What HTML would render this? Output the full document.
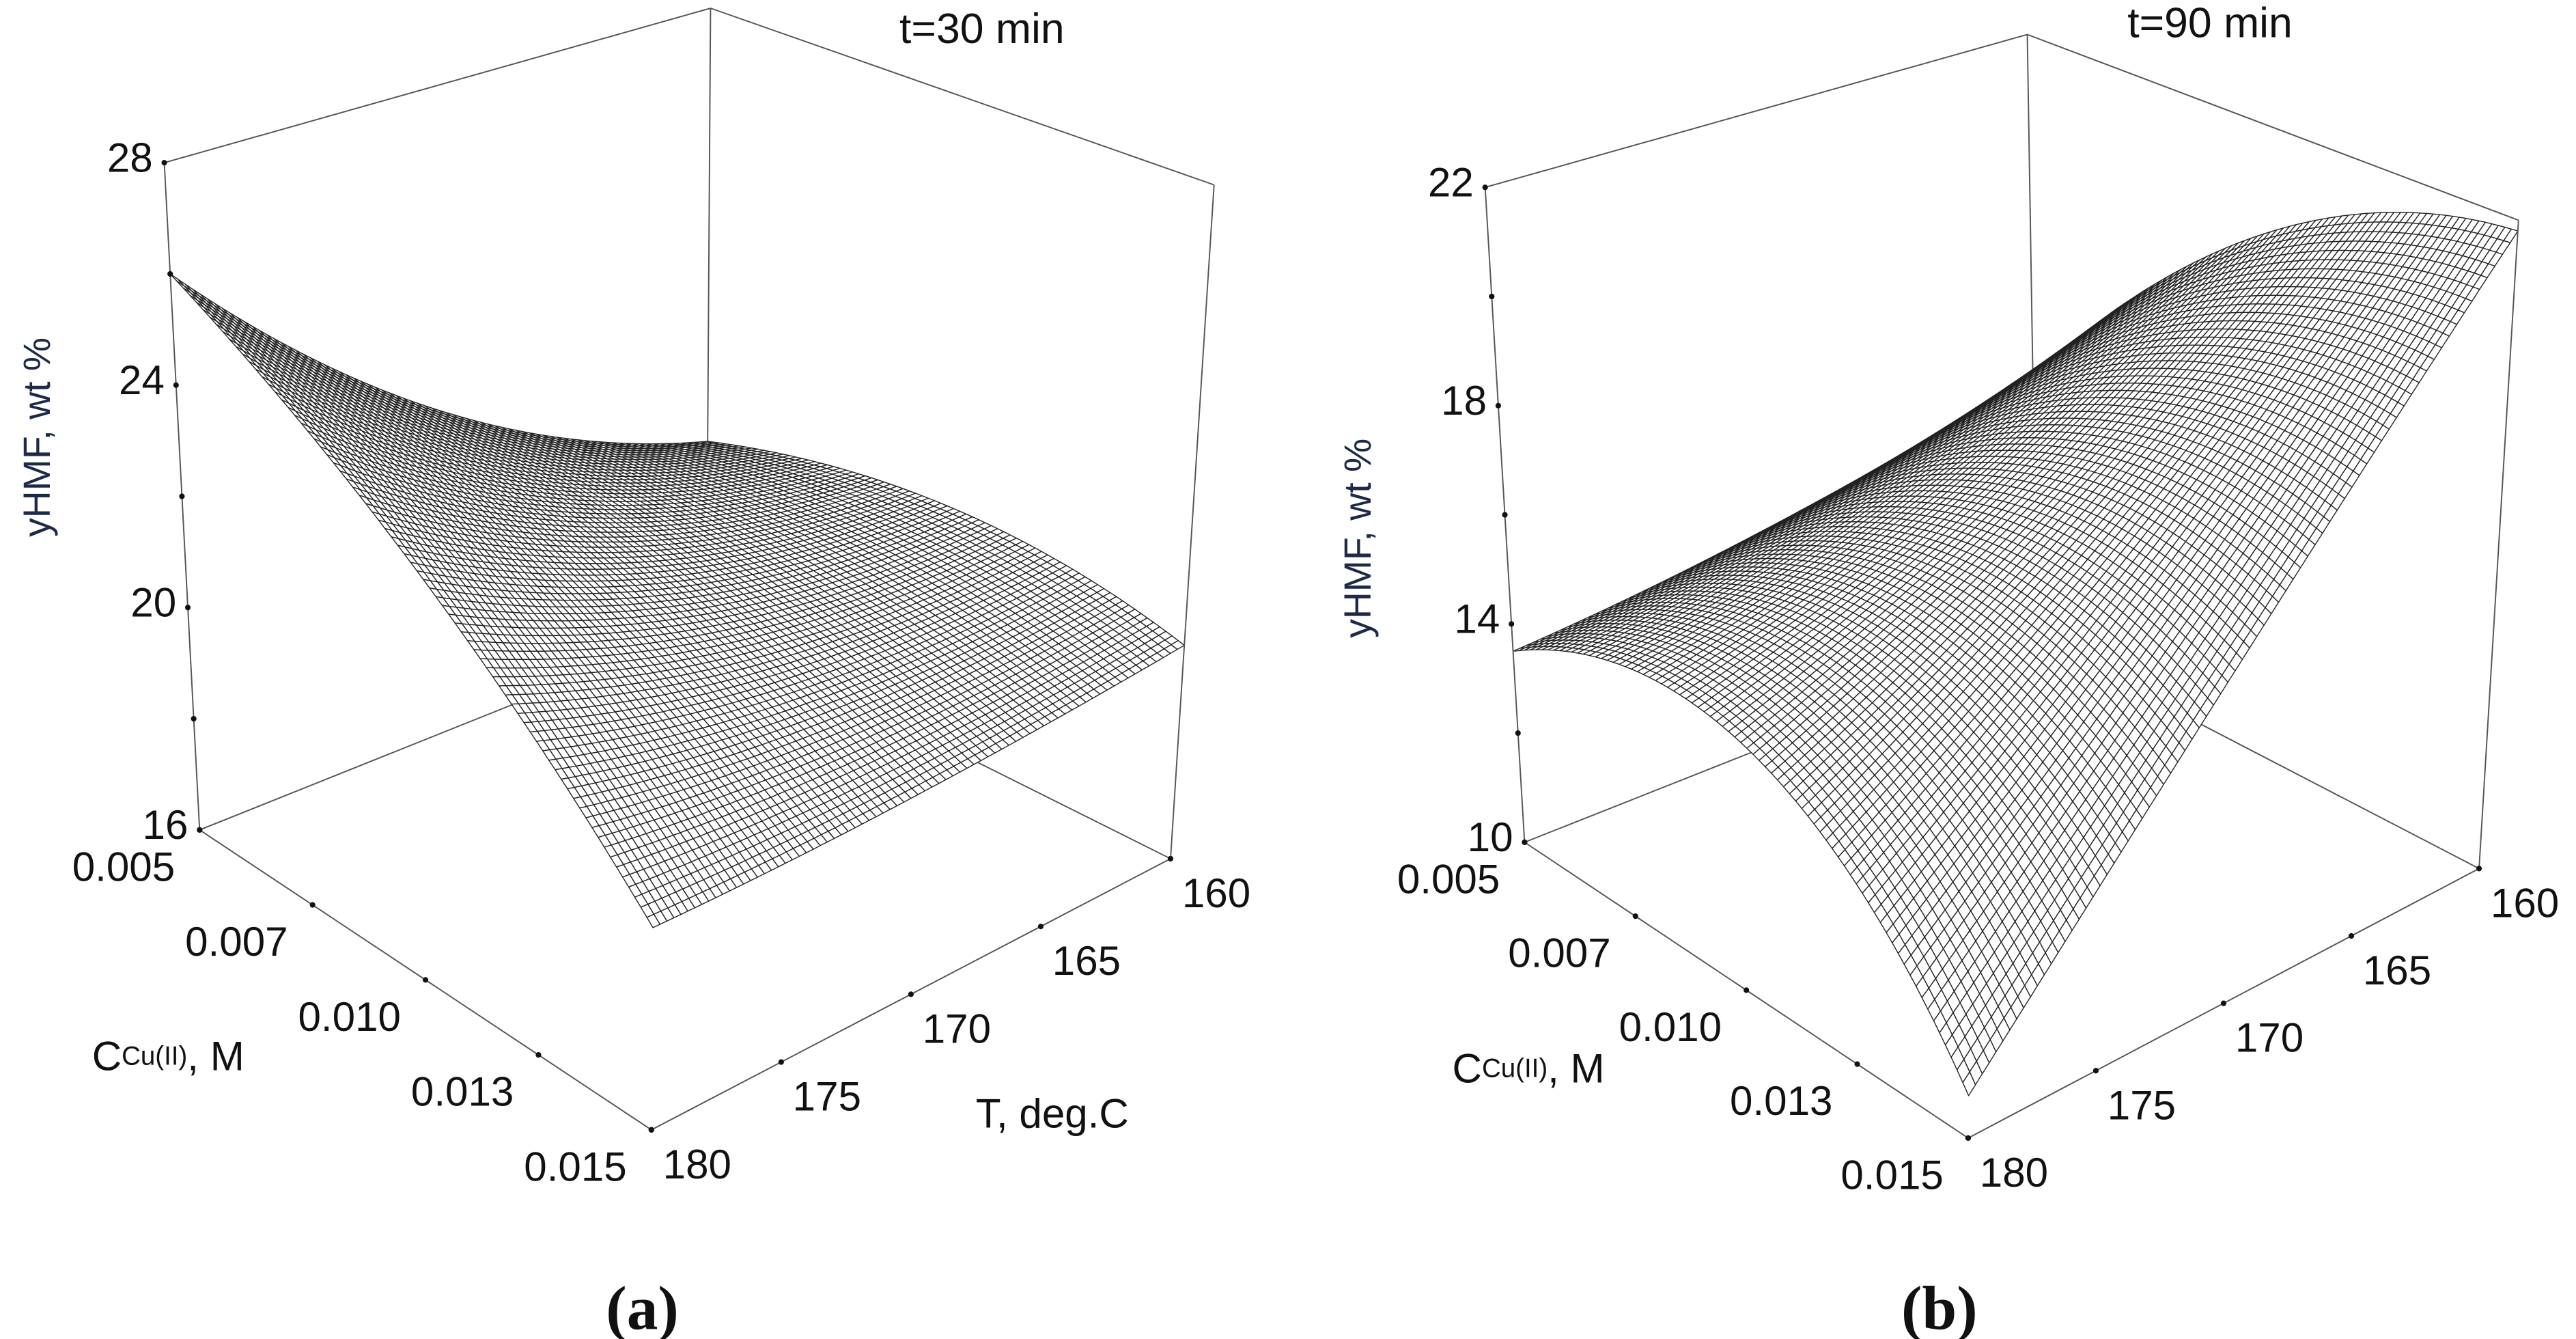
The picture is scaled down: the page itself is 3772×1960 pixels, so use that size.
<!DOCTYPE html>
<html><head><meta charset="utf-8"><title>yHMF response surfaces</title>
<style>
html,body{margin:0;padding:0;background:#fff;}
svg{display:block;}
text{font-family:"Liberation Sans",sans-serif;fill:#111;}
</style></head>
<body>
<svg id="chart" width="3772" height="1960" viewBox="0 0 3772 1960" xmlns="http://www.w3.org/2000/svg">
<rect x="0" y="0" width="3772" height="1960" fill="#fff"/>
<g id="panelA" transform="scale(1.2028)"></g>
<g id="panelB" transform="translate(1886,0) scale(1.2028)"></g>
</svg>
<script>
// ---- data ----
const concCategories = [0.005, 0.010, 0.015];      // C Cu(II), M (grid columns)
const tempCategories = [160, 170, 180];            // T, deg.C (grid rows)
const surfaceA = [[19.6, 20.4, 19.8],              // T=160
                  [21.9, 21.0, 19.4],              // T=170
                  [26.0, 23.0, 19.3]];             // T=180
const surfaceB = [[15.2, 20.0, 21.8],
                  [14.1, 16.6, 15.8],
                  [13.5, 14.3, 10.7]];
const zTicksA = [16, 18, 20, 22, 24, 26, 28];
const zLabelsA = ["16", "20", "24", "28"];
const zTicksB = [10, 12, 14, 16, 18, 20, 22];
const zLabelsB = ["10", "14", "18", "22"];
const concTickLabels = ["0.005", "0.007", "0.010", "0.013", "0.015"];
const tempTickLabels = ["180", "175", "170", "165", "160"];

const NS = "http://www.w3.org/2000/svg";
function mk(parent, tag, attrs) {
  const e = document.createElementNS(NS, tag);
  for (const k in attrs) e.setAttribute(k, attrs[k]);
  parent.appendChild(e);
  return e;
}
function lerp(a, b, t) { return [a[0] + (b[0] - a[0]) * t, a[1] + (b[1] - a[1]) * t]; }
function bil(c, u, v) { return lerp(lerp(c.l, c.f, u), lerp(c.b, c.r, u), v); }
function L(s) { return [2 * (s - .5) * (s - 1), -4 * s * (s - 1), 2 * s * (s - .5)]; }

function drawPanel(g, cfg) {
  const zmin = cfg.zTicks[0], zmax = cfg.zTicks[cfg.zTicks.length - 1];
  const wOf = z => (z - zmin) / (zmax - zmin);
  const P = (u, v, w) => lerp(bil(cfg.bot, u, v), bil(cfg.top, u, v), w);
  const zAt = (u, v) => {
    const lu = L(u), vw = L(v);
    let z = 0;
    for (let r = 0; r < 3; r++) {
      const wv = r === 0 ? vw[2] : r === 1 ? vw[1] : vw[0];
      for (let c = 0; c < 3; c++) z += cfg.data[r][c] * lu[c] * wv;
    }
    return z;
  };
  const line = (a, b, name) => {
    const e = mk(g, "line", {x1: a[0], y1: a[1], x2: b[0], y2: b[1], stroke: "#555", "stroke-width": 1.6});
    
    
  };
  line(P(0, 0, 1), P(0, 1, 1), "top-back-left-edge");
  line(P(0, 1, 1), P(1, 1, 1), "top-back-right-edge");
  line(P(0, 1, 0), P(0, 1, 1), "back-vertical-edge");
  line(P(0, 0, 0), P(0, 1, 0), "floor-back-left-edge");
  line(P(0, 1, 0), P(1, 1, 0), "floor-back-right-edge");
  const N = 76;
  const sg = mk(g, "g", {});
  
  
  const pts = [];
  for (let i = 0; i <= N; i++) { pts[i] = []; for (let j = 0; j <= N; j++) { const u = i / N, v = j / N; pts[i][j] = P(u, v, wOf(zAt(u, v))); } }
  const cells = [];
  for (let i = 0; i < N; i++) for (let j = 0; j < N; j++) cells.push([i, j, (i + .5) / N - (j + .5) / N]);
  cells.sort((a, b) => a[2] - b[2]);
  for (const [i, j] of cells) {
    const q = [pts[i][j], pts[i + 1][j], pts[i + 1][j + 1], pts[i][j + 1]];
    const e = mk(sg, "polygon", {points: q.map(p => p[0].toFixed(1) + "," + p[1].toFixed(1)).join(" "), fill: "#fff", stroke: "#222", "stroke-width": 1.15, "stroke-linejoin": "round"});
    
    
  }
  line(P(0, 0, 0), P(0, 0, 1), "z-axis-line");
  line(P(1, 1, 0), P(1, 1, 1), "right-vertical-edge");
  line(P(0, 0, 0), P(1, 0, 0), "conc-axis-line");
  line(P(1, 0, 0), P(1, 1, 0), "temp-axis-line");
  const dot = (p, name) => {
    const e = mk(g, "circle", {cx: p[0], cy: p[1], r: 3.4, fill: "#111"});
    
    
  };
  const txt = (x, y, s, name, extra) => {
    const e = mk(g, "text", Object.assign({x: x, y: y, "font-size": 50, "dominant-baseline": "central"}, extra || {}));
    e.textContent = s;
    
    
    return e;
  };
  cfg.zTicks.forEach(z => dot(P(0, 0, wOf(z)), "z-tick"));
  cfg.zLabels.forEach(s => { const p = P(0, 0, wOf(+s)); txt(p[0] - 14, p[1] + cfg.zLabDy, s, "z-tick-label", {"text-anchor": "end"}); });
  concTickLabels.forEach((s, k) => { const p = P(k / 4, 0, 0); dot(p, "conc-tick"); txt(p[0] - 30, p[1] + 45, s, "conc-tick-label", {"text-anchor": "end"}); });
  tempTickLabels.forEach((s, k) => { const p = P(1, k / 4, 0); dot(p, "temp-tick"); txt(p[0] + 14, p[1] + 42, s, "temp-tick-label", {"text-anchor": "start"}); });
  const yl = txt(0, 0, "yHMF, wt %", "z-axis-title", {"text-anchor": "middle", transform: `translate(${cfg.yLab[0]},${cfg.yLab[1]}) rotate(-90)`, "font-size": 46});
  yl.style.fill = "#1c2a48";
  const cl = txt(cfg.cLab[0], cfg.cLab[1], "", "conc-axis-title", {"text-anchor": "start"});
  const t1 = document.createElementNS(NS, "tspan"); t1.textContent = "C"; cl.appendChild(t1);
  const t2 = document.createElementNS(NS, "tspan"); t2.setAttribute("font-size", 32); t2.textContent = "Cu(II)"; cl.appendChild(t2);
  const t3 = document.createElementNS(NS, "tspan"); t3.textContent = ", M"; cl.appendChild(t3);
  if (cfg.tLab) txt(cfg.tLab[0], cfg.tLab[1], "T, deg.C", "temp-axis-title", {"text-anchor": "start"});
  txt(cfg.title[0], cfg.title[1], cfg.titleText, "panel-title", {"text-anchor": "start", "font-size": 52});
  const pl = txt(cfg.plab[0], cfg.plab[1], "(" + cfg.plabText + ")", "panel-label", {"text-anchor": "middle", "font-size": 76, "font-weight": "bold"});
  pl.style.fontFamily = '"Liberation Serif", serif';
}

drawPanel(document.getElementById("panelA"), {
  data: surfaceA, zTicks: zTicksA, zLabels: zLabelsA, zLabDy: -6,
  bot: {l: [243, 1010], f: [793, 1375], b: [860, 763], r: [1425, 1045]},
  top: {l: [200, 198], f: [800, 480], b: [865, 10], r: [1478, 225]},
  yLab: [45, 532], cLab: [112, 1285], tLab: [1188, 1355],
  title: [1095, 35], titleText: "t=30 min", plab: [782, 1592], plabText: "a"
});
drawPanel(document.getElementById("panelB"), {
  data: surfaceB, zTicks: zTicksB, zLabels: zLabelsB, zLabDy: -6,
  bot: {l: [288, 1025], f: [828, 1385], b: [912, 778], r: [1450, 1057]},
  top: {l: [240, 228], f: [838, 500], b: [900, 42], r: [1498, 268]},
  yLab: [85, 655], cLab: [200, 1300], tLab: null,
  title: [1022, 28], titleText: "t=90 min", plab: [793, 1592], plabText: "b"
});
</script>
</body></html>
